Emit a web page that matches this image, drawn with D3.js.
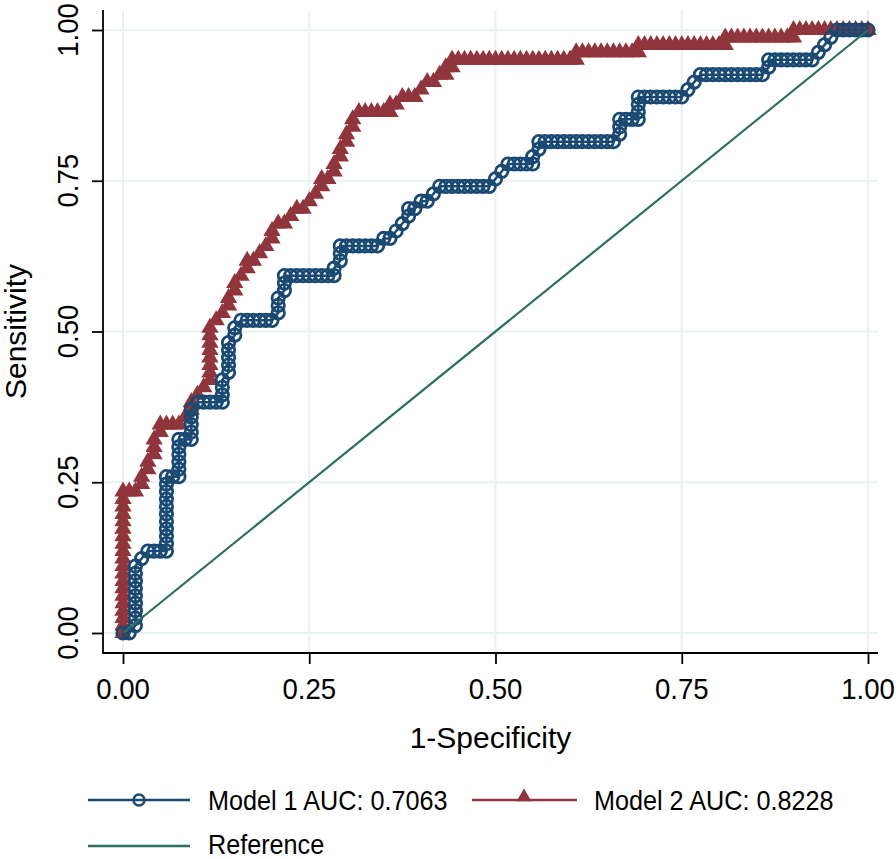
<!DOCTYPE html>
<html>
<head>
<meta charset="utf-8">
<script src="https://cdn.jsdelivr.net/npm/d3@7"></script>
<style>
  body { margin: 0; background: #fff; }
  svg { display: block; }
  text { font-family: "Liberation Sans", Arial, Helvetica, sans-serif; fill: #000; }
</style>
</head>
<body>
<div id="chart"></div>
<script>
// ROC points as counts: [false positives, true positives]
const negTotal = 120;
const posTotal = 81;
const tickValues = [0, 0.25, 0.5, 0.75, 1];
const legendLabels = ["Model 1 AUC: 0.7063", "Model 2 AUC: 0.8228", "Reference"];

const model1 = [
  [0,0],[1,0],[2,1],[2,2],[2,3],[2,4],[2,5],[2,6],[2,7],[2,8],[2,9],[3,10],[4,11],[5,11],[6,11],[7,11],
  [7,12],[7,13],[7,14],[7,15],[7,16],[7,17],[7,18],[7,19],[7,20],[7,21],[8,21],[9,21],
  [9,22],[9,23],[9,24],[9,25],[9,26],[10,26],[11,26],[11,27],[11,28],[11,29],[11,30],
  [12,31],[13,31],[14,31],[15,31],[16,31],[16,32],[16,33],[16,34],[17,35],[17,36],[17,37],[17,38],[17,39],[18,40],[18,41],
  [19,42],[20,42],[21,42],[22,42],[23,42],[24,42],[25,43],[25,44],[25,45],[26,46],[26,47],[26,48],
  [27,48],[28,48],[29,48],[30,48],[31,48],[32,48],[33,48],[34,48],[34,49],[35,50],[35,51],[35,52],
  [36,52],[37,52],[38,52],[39,52],[40,52],[41,52],[42,53],[43,53],[44,54],[45,55],[46,56],[46,57],[47,57],[48,58],[49,58],[50,59],[51,60],
  [52,60],[53,60],[54,60],[55,60],[56,60],[57,60],[58,60],[59,60],[60,61],[61,62],[62,63],[63,63],[64,63],[65,63],[66,63],[66,64],[67,65],[67,66],
  [68,66],[69,66],[70,66],[71,66],[72,66],[73,66],[74,66],[75,66],[76,66],[77,66],[78,66],[79,66],[80,67],[80,68],[80,69],[81,69],[82,69],[83,69],[83,70],[83,71],[83,72],
  [84,72],[85,72],[86,72],[87,72],[88,72],[89,72],[90,72],[91,73],[92,74],[93,75],[94,75],[95,75],[96,75],[97,75],[98,75],[99,75],[100,75],[101,75],[102,75],[103,75],[104,76],[104,77],
  [105,77],[106,77],[107,77],[108,77],[109,77],[110,77],[111,77],[112,78],[113,79],[114,80],[115,81],[116,81],[117,81],[118,81],[119,81],[120,81]
];

const model2 = [
  [0,0],[0,1],[0,2],[0,3],[0,4],[0,5],[0,6],[0,7],[0,8],[0,9],[0,10],[0,11],[0,12],[0,13],[0,14],[0,15],[0,16],[0,17],[0,18],[0,19],
  [1,19],[2,19],[3,20],[3,21],[4,22],[4,23],[5,24],[5,25],[5,26],[6,27],[6,28],[7,28],[8,28],[9,28],[10,29],[11,30],[11,31],[12,32],[13,33],
  [14,34],[14,35],[14,36],[14,37],[14,38],[14,39],[14,40],[14,41],[15,42],[16,43],[17,44],[17,45],[18,46],[18,47],[19,48],[20,49],[20,50],
  [21,50],[22,51],[23,52],[24,53],[24,54],[25,55],[26,55],[27,56],[28,57],[29,57],[30,58],[31,59],[32,60],[32,61],[33,61],[34,62],[34,63],
  [35,64],[35,65],[36,66],[36,67],[37,68],[37,69],
  [38,70],[39,70],[40,70],[41,70],[42,70],[43,70],[43,71],[44,71],[45,72],[46,72],[47,72],[48,73],[49,74],[50,74],[51,75],[52,75],[52,76],[53,76],[53,77],
  [54,77],[55,77],[56,77],[57,77],[58,77],[59,77],[60,77],[61,77],[62,77],[63,77],[64,77],[65,77],[66,77],[67,77],[68,77],[69,77],[70,77],[71,77],[72,77],[73,77],
  [73,78],[74,78],[75,78],[76,78],[77,78],[78,78],[79,78],[80,78],[81,78],[82,78],[83,78],
  [83,79],[84,79],[85,79],[86,79],[87,79],[88,79],[89,79],[90,79],[91,79],[92,79],[93,79],[94,79],[95,79],[96,79],[97,79],
  [97,80],[98,80],[99,80],[100,80],[101,80],[102,80],[103,80],[104,80],[105,80],[106,80],[107,80],[108,80],
  [108,81],[109,81],[110,81],[111,81],[112,81],[113,81],[114,81],[115,81],[116,81],[117,81],[118,81],[119,81],[120,81]
];

const reference = [[0,0],[negTotal,posTotal]];

const navy = "#1a4a73", maroon = "#8f353b", green = "#2e6f62", gridColor = "#e9f1f3";

const W = 896, H = 859;
const svg = d3.select("#chart").append("svg").attr("width", W).attr("height", H);

const x = d3.scaleLinear().domain([0, 1]).range([123, 868]);
const y = d3.scaleLinear().domain([0, 1]).range([633, 30]);
const plotLeft = 103, plotRight = 878, plotTop = 10, plotBottom = 653;

function label(px, py, str, size, rot, sx, anchor) {
  svg.append("text")
    .attr("transform", `translate(${px},${py}) rotate(${rot}) scale(${sx},1)`)
    .attr("text-anchor", anchor || "middle")
    .attr("font-size", size + "px")
    .text(str);
}

// grid
const grid = svg.append("g");
tickValues.forEach(t => {
  grid.append("line").attr("x1", plotLeft).attr("x2", plotRight).attr("y1", y(t)).attr("y2", y(t))
    .attr("stroke", gridColor).attr("stroke-width", 2);
  grid.append("line").attr("x1", x(t)).attr("x2", x(t)).attr("y1", plotTop).attr("y2", plotBottom)
    .attr("stroke", gridColor).attr("stroke-width", 2);
});

// axes
const yAxis = svg.append("g").attr("transform", `translate(${plotLeft},0)`)
  .call(d3.axisLeft(y).tickValues(tickValues).tickSize(11).tickFormat(""));
const xAxis = svg.append("g").attr("transform", `translate(0,${plotBottom})`)
  .call(d3.axisBottom(x).tickValues(tickValues).tickSize(11).tickFormat(""));
[yAxis, xAxis].forEach(a => {
  a.select(".domain").remove();
  a.selectAll(".tick line").attr("stroke", "#000").attr("stroke-width", 1.8);
});
svg.append("path").attr("d", `M${plotLeft},${plotTop}V${plotBottom}H${plotRight}`)
  .attr("fill", "none").attr("stroke", "#000").attr("stroke-width", 1.8);

const fmt = d3.format(".2f");
tickValues.forEach(t => {
  label(78, y(t), fmt(t), 30, -90, 0.92);
  label(x(t), 699, fmt(t), 30, 0, 0.92);
});
label((plotLeft + plotRight) / 2, 748, "1-Specificity", 30, 0, 1);
label(26, y(0.5), "Sensitivity", 30, -90, 1);

// curves
const line = d3.line().x(d => x(d[0] / negTotal)).y(d => y(d[1] / posTotal));
const triangle = d3.symbol().type(d3.symbolTriangle).size(130);

const g2 = svg.append("g");
g2.append("path").datum(model2).attr("d", line).attr("fill", "none")
  .attr("stroke", maroon).attr("stroke-width", 2.5);
g2.selectAll("path.mk").data(model2).join("path").attr("class", "mk")
  .attr("d", triangle)
  .attr("transform", d => `translate(${x(d[0] / negTotal)},${y(d[1] / posTotal)})`)
  .attr("fill", maroon);

const g1 = svg.append("g");
g1.append("path").datum(model1).attr("d", line).attr("fill", "none")
  .attr("stroke", navy).attr("stroke-width", 2.5);
g1.selectAll("circle").data(model1).join("circle")
  .attr("cx", d => x(d[0] / negTotal)).attr("cy", d => y(d[1] / posTotal))
  .attr("r", 6.2).attr("fill", "none").attr("stroke", navy).attr("stroke-width", 2.8);

svg.append("path").datum(reference).attr("d", line).attr("fill", "none")
  .attr("stroke", green).attr("stroke-width", 2.2);

// legend
const lg = svg.append("g");
lg.append("line").attr("x1", 88).attr("x2", 190).attr("y1", 800).attr("y2", 800)
  .attr("stroke", navy).attr("stroke-width", 2.7);
lg.append("circle").attr("cx", 139).attr("cy", 800).attr("r", 5.5)
  .attr("fill", "none").attr("stroke", navy).attr("stroke-width", 2.4);
lg.append("line").attr("x1", 472).attr("x2", 577).attr("y1", 800).attr("y2", 800)
  .attr("stroke", maroon).attr("stroke-width", 2.7);
lg.append("path").attr("d", d3.symbol().type(d3.symbolTriangle).size(95))
  .attr("transform", "translate(524,797)").attr("fill", maroon);
lg.append("line").attr("x1", 88).attr("x2", 190).attr("y1", 846).attr("y2", 846)
  .attr("stroke", green).attr("stroke-width", 2.7);
label(208, 810, legendLabels[0], 28, 0, 0.9, "start");
label(594, 810, legendLabels[1], 28, 0, 0.9, "start");
label(208, 854, legendLabels[2], 28, 0, 0.9, "start");
</script>
</body>
</html>
